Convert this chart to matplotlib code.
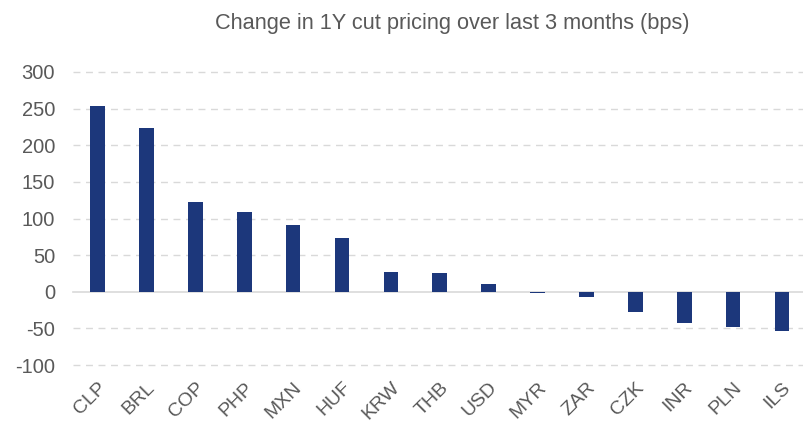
import numpy as np
import matplotlib.pyplot as plt

plt.rcParams['font.family'] = ['Liberation Sans', 'DejaVu Sans']

currencies = ['CLP', 'BRL', 'COP', 'PHP', 'MXN', 'HUF', 'KRW', 'THB', 'USD',
              'MYR', 'ZAR', 'CZK', 'INR', 'PLN', 'ILS']
change_bps = [254, 223, 123, 109, 91, 74, 27, 26, 10, -2, -7, -27, -42, -48, -53]
y_ticks = [-100, -50, 0, 50, 100, 150, 200, 250, 300]

fig = plt.figure(figsize=(8.04, 4.26), dpi=100)
ax = fig.add_axes([0.091, 0.143, 0.912, 0.688])

x = np.arange(len(currencies))
ax.bar(x, change_bps, width=0.3, color='#1c377b', zorder=3)

for t in y_ticks:
    if t == 0:
        ax.axhline(0, color='#d9d9d9', lw=1.2, zorder=2, clip_on=False)
    else:
        ax.axhline(t, color='#d9d9d9', lw=1, ls=(0, (5, 4)), zorder=1, clip_on=False)

ax.set_ylim(-100, 300)
ax.set_xlim(-0.5, len(currencies) - 0.5)
ax.set_yticks(y_ticks)
ax.set_yticklabels([str(t) for t in y_ticks], fontsize=14.5, color='#595959')
ax.set_xticks(x)
ax.set_xticklabels(currencies, rotation=45, ha='right', rotation_mode='anchor',
                   fontsize=14, color='#595959')
ax.tick_params(axis='y', length=0, pad=13)
ax.tick_params(axis='x', length=0, pad=10)
for s in ax.spines.values():
    s.set_visible(False)

fig.text(0.563, 0.945, 'Change in 1Y cut pricing over last 3 months (bps)',
         ha='center', va='center', fontsize=15.7, color='#595959')

fig.savefig('out.png', dpi=100)
